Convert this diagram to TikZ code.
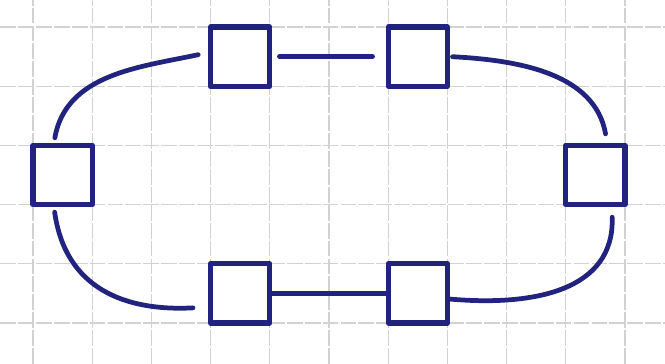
\documentclass[tikz,border=0pt]{standalone}
\usepackage{xcolor}
\usepackage{tikz}
\usetikzlibrary{calc}
\definecolor{rnInk}{HTML}{22237F}
\definecolor{rnGrid}{HTML}{D2D2D2}
\tikzset{
  station/.style={rectangle,draw=rnInk,fill=white,line width=3pt,
    minimum size=1.184cm,inner sep=0pt,line join=round},
  ringlink/.style={draw=rnInk,line width=2.7pt,line cap=round},
  gridline/.style={rnGrid,line width=0.7pt,dash pattern=on 9pt off 1.2pt},
}
\begin{document}
\begin{tikzpicture}
  \useasboundingbox (0,0) rectangle (13.3,7.28);
  \fill[white] (0,0) rectangle (13.3,7.28);

  % Squared paper
  \foreach \i in {0,...,10}
    \draw[gridline] ({0.66+1.184*\i},0) -- ++(0,7.28);
  \foreach \j in {0,...,5}
    \draw[gridline] (0,{0.82+1.184*\j}) -- ++(13.3,0);

  % Stations (one grid cell each)
  \node[station] (left)     at (1.252,3.78)  {};
  \node[station] (topleft)  at (4.804,6.148) {};
  \node[station] (topright) at (8.356,6.148) {};
  \node[station] (right)    at (11.908,3.78) {};
  \node[station] (botleft)  at (4.804,1.412) {};
  \node[station] (botright) at (8.356,1.412) {};

  % Ring
  \draw[ringlink,shorten <=0.2cm,shorten >=0.1cm]
    (topleft.173) to[out=192,in=80] (left.105);
  \draw[ringlink,shorten <=0.14cm,shorten >=0.26cm] (topleft) -- (topright);
  \draw[ringlink,shorten <=0.05cm,shorten >=0.18cm]
    (topright.east) to[out=-3,in=100] (right.70);
  \draw[ringlink,shorten <=0.2cm]
    (right.-63) to[out=-88,in=-5,looseness=1.15] (botright.-10);
  \draw[ringlink] (botright) -- (botleft);
  \draw[ringlink,shorten <=0.3cm,shorten >=0.1cm]
    (botleft.203) to[out=183,in=-82,looseness=1.15] (left.-105);
\end{tikzpicture}
\end{document}
